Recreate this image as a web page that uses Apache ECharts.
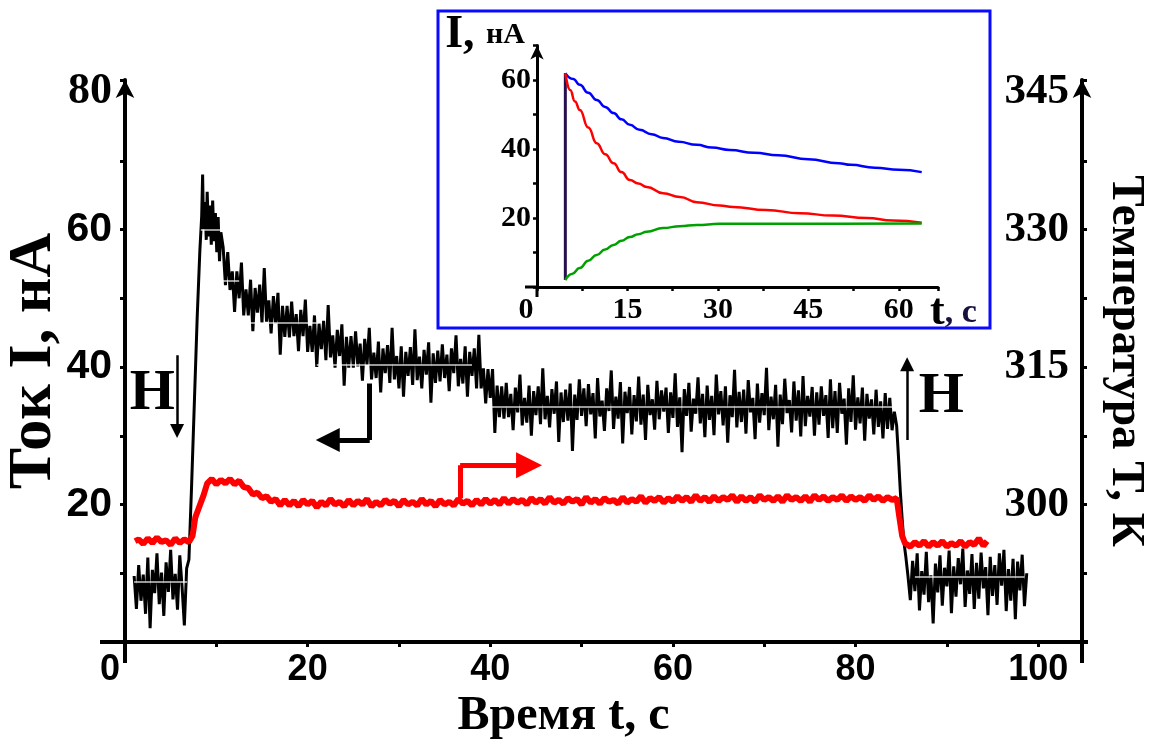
<!DOCTYPE html>
<html><head><meta charset="utf-8">
<script src="https://cdn.jsdelivr.net/npm/echarts@6/dist/echarts.min.js"></script>
<style>html,body{margin:0;padding:0;background:#fff;}#c{width:1151px;height:745px;}</style>
</head><body><div id="c"></div>
<script>
// ---------- data ----------
// Current I (nA) vs time t (s), main chart, left axis
const currentBefore = [
[1.0,9.6],[1.25,4.8],[1.5,11.2],[1.75,6.0],[2,9.8],[2.25,4.1],[2.5,12.3],[2.75,2.0],[3,10.5],[3.25,7.1],[3.5,12.9],[3.75,5.5],
[4,10.1],[4.25,3.8],[4.5,11.6],[4.75,7.3],[5,13.4],[5.25,6.2],[5.5,9.9],[5.75,4.7],[6,12.6],[6.25,8.0],
[6.5,2.4],[6.75,10.7]
];
const currentRise = [
[7.0,12],[7.3,23],[7.6,35],[7.9,47],[8.2,57],[8.4,62],[8.5,68],[8.6,60],[8.75,64],[8.9,58.5],[9.0,65.5],
[9.15,59],[9.3,63.5],[9.45,57.8],[9.6,64.2],[9.75,58.3],[9.9,62.4],[10.05,56.7],[10.2,61.8],[10.35,55.4],[10.5,59.6]
];
const currentDecay = [
[10.75,57.4],[11,51.9],[11.25,56.7],[11.5,51.2],[11.75,53.9],[12,48.0],[12.25,53.9],[12.5,50.0],[12.75,55.2],[13,47.5],
[13.25,51.3],[13.5,47.5],[13.75,52.7],[14,45.2],[14.25,51.5],[14.5,47.9],[14.75,52.0],[15,46.4],[15.25,54.4],[15.5,46.6],
[15.75,49.7],[16,44.9],[16.25,50.3],[16.5,46.4],[16.75,50.8],[17,41.8],[17.25,48.9],[17.5,44.4],[17.75,48.9],[18,44.3],
[18.25,49.5],[18.5,44.5],[18.75,47.7],[19,42.3],[19.25,48.3],[19.5,44.5],[19.75,49.8],[20,42.2],[20.25,46.0],[20.5,42.2],
[20.75,47.5],[21,40.0],[21.25,46.3],[21.5,42.6],[21.75,46.7],[22,41.0],[22.25,49.0],[22.5,41.4],[22.75,44.6],[23,39.9],
[23.25,45.4],[23.5,41.6],[23.75,46.2],[24,37.3],[24.25,44.4],[24.5,39.9],[24.75,44.5],[25,39.9],[25.25,45.2],[25.5,40.1],
[25.75,43.4],[26,38.0],[26.25,44.1],[26.5,40.3],[26.75,45.7],[27,38.2],[27.25,42.1],[27.5,38.4],[27.75,43.7],[28,36.3],
[28.25,42.7],[28.5,39.1],[28.75,43.2],[29,37.7],[29.25,45.7],[29.5,38.2],[29.75,41.6],[30,36.9],[30.25,43.0],[30.5,35.7],
[30.75,42.2],[31,38.7],[31.25,42.9],[31.5,37.4],[31.75,45.5],[32,38.1],[32.25,41.5],[32.5,36.9],[32.75,42.5],[33,38.9],
[33.25,43.6],[33.5,34.8],[33.75,42.0],[34,37.7],[34.25,42.4],[34.5,37.9],[34.75,43.3],[35,38.4],[35.25,41.8],[35.5,36.5],
[35.75,42.7],[36,39.1],[36.25,44.6],[36.5,37.2],[36.75,41.2],[37,37.6],[37.25,43.0],[37.5,35.7],[37.75,42.2],[38,38.7],
[38.25,42.7],[38.5,36.9],[38.75,44.7],[39,36.9],[39.25,39.8],[39.5,34.7],[39.75,39.7],[40,35.5],[40.25,39.7],[40.5,30.4],
[40.75,37.3],[41,32.7],[41.25,37.2],[41.5,32.5],[41.75,37.7]
];
const currentPlateau = [
[42,32.7],[42.25,36.1],[42.5,30.8],[42.75,37.0],[43,33.4],[43.25,38.9],[43.5,31.5],[43.75,35.5],[44,31.9],[44.25,37.3],
[44.5,30.0],[44.75,36.5],[45,33.0],[45.25,37.2],[45.5,31.7],[45.75,39.8],[46,32.4],[46.25,35.8],[46.5,31.2],[46.75,36.8],
[47,33.2],[47.25,37.9],[47.5,29.1],[47.75,36.3],[48,32.0],[48.25,36.7],[48.5,32.2],[48.75,37.6],[49,27.8],[49.25,36.0],
[49.5,32.3],[49.75,38.2],[50,32.9],[50.25,36.9],
[50.5,31.4],[50.75,37.5],[51,33.1],[51.25,36.2],[51.5,29.6],[51.75,38.4],[52,32.8],[52.25,35.1],[52.5,30.7],[52.75,36.9],
[53,33.6],[53.25,39.5],[53.5,31.0],[53.75,35.7],[54,32.5],[54.25,37.8],[54.5,28.9],[54.75,36.4],[55,33.3],[55.25,37.1],
[55.5,30.2],[55.75,35.9],[56,32.1],[56.25,38.6],[56.5,31.6],[56.75,36.0],[57,29.4],[57.25,37.4],[57.5,33.0],[57.75,35.3],
[58,30.9],[58.25,38.0],[58.5,32.4],[58.75,36.6],
[59,33.5],[59.25,37.0],[59.5,30.4],[59.75,36.3],[60,32.6],[60.25,39.1],[60.5,31.3],[60.75,35.6],[61,27.6],[61.25,36.8],
[61.5,32.9],[61.75,37.7],[62,30.6],[62.25,35.4],[62.5,33.2],[62.75,38.5],[63,31.8],[63.25,36.1],[63.5,29.8],[63.75,37.3],
[64,32.3],[64.25,35.8],[64.5,30.1],[64.75,38.9],[65,33.1],[65.25,36.5],[65.5,31.5],[65.75,37.2],[66,29.0],[66.25,35.9],
[66.5,32.7],[66.75,39.6],[67,31.2],[67.25,36.4],
[67.5,32.0],[67.75,36.7],[68,30.3],[68.25,38.1],[68.5,33.4],[68.75,35.5],[69,29.5],[69.25,37.6],[69.5,31.9],[69.75,36.2],
[70,33.0],[70.25,39.9],[70.5,30.8],[70.75,35.7],[71,32.4],[71.25,37.4],[71.5,28.4],[71.75,36.0],[72,31.7],[72.25,38.3],
[72.5,33.3],[72.75,35.2],[73,30.5],[73.25,37.9],[73.5,32.2],[73.75,36.6],[74,29.9],[74.25,38.7],[74.5,31.4],[74.75,35.8],
[75,32.8],[75.25,37.1],[75.5,30.0],[75.75,36.3],
[76,31.6],[76.25,37.2],[76.5,32.9],[76.75,35.9],[77,29.7],[77.25,38.2],[77.5,31.1],[77.75,36.5],[78,30.4],[78.25,37.7],
[78.5,33.2],[78.75,35.4],[79,28.7],[79.25,36.9],[79.5,32.0],[79.75,38.8],[80,30.9],[80.25,35.6],[80.5,31.8],[80.75,37.0],
[81,29.3],[81.25,36.1],[81.5,32.5],[81.75,35.3],[82,30.2],[82.25,36.7],[82.5,31.3],[82.75,35.0],[83,29.6],[83.25,36.2],
[83.5,31.0],[83.75,35.5],[84,30.8],[84.25,33.5]
];
const currentDrop = [[84.5,31.5],[84.7,27],[84.9,22],[85.1,18],[85.3,14.5],[85.5,12.5],[85.75,9.5]];
const currentAfter = [
[86,6.1],[86.25,11.8],[86.5,7.4],[86.75,12.9],[87,4.6],[87.25,10.3],[87.5,6.9],[87.75,13.1],[88,5.8],[88.25,9.7],
[88.5,2.7],[88.75,11.4],[89,7.2],[89.25,12.6],[89.5,5.3],[89.75,10.8],[90,8.1],[90.25,13.3],[90.5,4.2],[90.75,11.0],
[91,6.6],[91.25,12.2],[91.5,8.4],[91.75,13.6],[92,5.1],[92.25,10.4],[92.5,7.0],[92.75,12.8],[93,4.8],[93.25,11.5],
[93.5,6.3],[93.75,13.0],[94,7.8],[94.25,10.9],[94.5,3.9],[94.75,12.4],[95,6.7],[95.25,11.2],[95.5,5.4],[95.75,12.9],
[96,8.2],[96.25,13.4],[96.5,4.5],[96.75,10.6],[97,6.0],[97.25,12.1],[97.5,3.3],[97.75,11.7],[98,7.5],[98.25,12.7],
[98.5,5.2],[98.75,10.0]
];
// Temperature T (K) vs time t (s), main chart, right axis
const temperatureSeries = [
[1.1,296.0],[1.5,296.2],[2,295.7],[2.5,296.3],[3,295.8],[3.5,296.4],[4,295.9],[4.5,296.1],[5,295.6],[5.5,296.3],[6,295.8],
[6.5,296.2],[7,295.9],[7.4,296.6],[7.7,298.6],[8,299.4],[8.3,300.2],[8.6,301.0],[9,302.3],[9.5,302.8],[10,302.2],
[10.5,302.7],[11,302.3],[11.5,302.8],[12,302.2],[12.5,302.6],[13,301.9],[13.5,301.8],[14,301.1],[14.5,301.3],[15,300.7],
[15.5,300.9],[16,300.3],[16.5,300.6],[17,299.9],[17.5,300.5],[18,299.9],[18.5,300.4],[19,299.8],[19.5,300.5],[20,300.0],
[20.5,300.4],[21,299.7],[21.5,300.3],[22,299.9],[22.5,300.6],[23,300.0],[23.5,300.3],[24,299.8],[24.5,300.5],[25,299.9],
[25.5,300.4],[26,300.0],[26.5,300.6],[27,299.8],[27.5,300.3],[28,299.9],[28.5,300.5],[29,300.1],[29.5,300.4],[30,299.8],
[30.5,300.5],[31,300.0],[31.5,300.3],[32,299.9],[32.5,300.6],[33,300.0],[33.5,300.4],[34,299.8],[34.5,300.5],[35,300.0],
[35.5,300.3],[36,299.9],[36.5,300.6],[37,300.1],[37.5,300.4],[38,299.9],[38.5,300.5],[39,300.0],[39.5,300.6],[40,300.1],
[40.5,300.5],[41,300.0],[41.5,300.7],[42,300.1],[42.5,300.6],[43,300.2],[43.5,300.5],[44,300.0],[44.5,300.7],[45,300.2],
[45.5,300.6],[46,300.1],[46.5,300.8],[47,300.2],[47.5,300.5],[48,300.1],[48.5,300.7],[49,300.3],[49.5,300.6],[50,300.0],
[50.5,300.8],[51,300.2],[51.5,300.6],[52,300.1],[52.5,300.7],[53,300.3],[53.5,300.5],[54,300.1],[54.5,300.8],[55,300.2],
[55.5,300.6],[56,300.3],[56.5,300.9],[57,300.2],[57.5,300.7],[58,300.4],[58.5,300.8],[59,300.2],[59.5,300.7],[60,300.3],
[60.5,300.9],[61,300.4],[61.5,300.8],[62,300.3],[62.5,301.0],[63,300.4],[63.5,300.8],[64,300.3],[64.5,300.9],[65,300.4],
[65.5,300.8],[66,300.5],[66.5,301.0],[67,300.3],[67.5,300.9],[68,300.4],[68.5,300.8],[69,300.3],[69.5,301.0],[70,300.5],
[70.5,300.8],[71,300.4],[71.5,300.9],[72,300.3],[72.5,301.0],[73,300.5],[73.5,300.8],[74,300.4],[74.5,300.9],[75,300.3],
[75.5,301.0],[76,300.5],[76.5,300.9],[77,300.4],[77.5,300.8],[78,300.5],[78.5,301.0],[79,300.4],[79.5,300.9],[80,300.5],
[80.5,300.8],[81,300.4],[81.5,301.0],[82,300.5],[82.5,300.9],[83,300.4],[83.5,300.8],[84,300.5],[84.5,300.7],
[84.8,298.6],[85.1,296.6],[85.4,295.8],[86,295.4],[86.5,295.9],[87,295.5],[87.5,296.0],[88,295.4],[88.5,295.9],
[89,295.5],[89.5,296.0],[90,295.4],[90.5,295.8],[91,295.5],[91.5,296.0],[92,295.4],[92.5,295.9],[93,295.6],
[93.5,296.3],[94,295.5],[94.4,296.0]
];
// light mean-level streaks through the noisy current trace: [tStart, tEnd, level]
const currentMeanLevels = [
[1.0,6.8,8.7],[8.3,10.6,60],[10.6,12.5,52.6],[12.5,21,46.4],[21,38,40.3],[38,84.3,34.2],[86.5,98.5,9.5]
];
// inset: I (nA) vs t (s)
const insetBlue = [[4.7,62],[6,60.3],[7.1,58.6],[8.5,56.3],[9.9,54.2],[11.3,52.2],[12.7,50.4],[14,48.6],[15.4,47],
[17,45.6],[19,44.3],[20.9,43.2],[23.5,42.1],[26.5,41.2],[29,40.4],[32,39.7],[36,38.9],[40,38.2],[45,37],[50,35.9],
[52,35.4],[56,34.6],[60,34],[63.8,33.3]];
const insetRed = [[4.7,62],[5.5,57.1],[6.3,53.8],[7.1,51.3],[8.5,46.2],[9.9,41.7],[11.3,38.5],[12.7,35.9],[14,33.3],
[15.4,31],[16.8,30],[18.2,29],[20.9,27.2],[23.7,26.1],[26.5,24.6],[30.3,23.6],[32.5,23.2],[38,22.3],[43.6,21.4],
[49,20.7],[54.7,20],[59,19.3],[63.8,18.6]];
const insetGreen = [[4.7,2],[5.8,3.8],[7.1,5.5],[8.5,7.6],[9.9,9.3],[11.3,10.9],[12.7,12.2],[14,13.4],[15.4,14.5],
[16.8,15.3],[18.2,16],[20.9,17.1],[23.7,17.6],[26.5,18],[30.3,18.3],[40,18.3],[50,18.3],[63.8,18.4]];
const insetJump = [[4.7,2],[4.7,62]];
// tick labels
const mainXTickLabels = [0,20,40,60,80,100];
const currentTickLabels = [20,40,60,80];
const tempTickLabels = [300,315,330,345];
const insetXTickLabels = [0,15,30,45,60];
const insetYTickLabels = [20,40,60];
// annotations (data coordinates of the main chart, current axis)
const blackArrowStem = [[26.8,37.6],[26.8,29.4]];
const blackArrowHead = [[26.8,29.4],[22.2,29.4]];
const redArrowStem = [[36.7,20.9],[36.7,25.7]];
const redArrowHead = [[36.7,25.7],[44.25,25.7]];
const fieldArrows = [[[5.7,41.7],[5.7,30.7]],[[85.65,29.4],[85.65,40.4]]];
const fieldLabels = [[3.0,36.1],[89.4,35.6]];

const currentSeries = [].concat(currentBefore, currentRise, currentDecay, currentPlateau, currentDrop, currentAfter);

// ---------- chart ----------
const SERIF = 'Liberation Serif, Times New Roman, serif';
const SANS = 'Liberation Sans, Arial, sans-serif';
const chart = echarts.init(document.getElementById('c'));

function axisBase(width){
  return {
    axisLine:{show:true,onZero:false,lineStyle:{color:'#000',width:width}},
    axisTick:{show:true,length:5,lineStyle:{color:'#000',width:3}},
    splitLine:{show:false}
  };
}
function arrowLines(name, coordsList, color, width, head){
  return {name:name,type:'lines',coordinateSystem:'cartesian2d',xAxisIndex:0,yAxisIndex:0,silent:true,
    symbol:['none',head?'triangle':'none'],symbolSize:head||0,
    lineStyle:{color:color,width:width,opacity:1,curveness:0},
    data:coordsList.map(c=>({coords:c})),z:5};
}

const option = {
  animation:false,
  backgroundColor:'#fff',
  grid:[
    {left:125,right:69,top:80,bottom:103,containLabel:false,outerBoundsMode:'none'},
    {left:537,right:213,top:45.5,bottom:458,containLabel:false,outerBoundsMode:'none'}
  ],
  xAxis:[
    Object.assign(axisBase(4),{
      type:'value',gridIndex:0,min:0,max:104.8,interval:10,
      axisLabel:{margin:10,color:'#000',fontFamily:SANS,fontWeight:'bold',fontSize:36,
        formatter:v=>mainXTickLabels.includes(v)?(v===0?'{z|0}':String(v)):'',
        rich:{z:{fontFamily:SANS,fontWeight:'bold',fontSize:36,color:'#000',padding:[0,30,0,0]}}},
      name:'Время t, с',nameLocation:'middle',nameGap:48,
      nameTextStyle:{fontFamily:SERIF,fontWeight:'bold',fontSize:48,color:'#000',padding:[0,80,0,0]}
    }),
    Object.assign(axisBase(3),{
      type:'value',gridIndex:1,min:0,max:66.5,interval:7.5,
      axisTick:{show:true,length:4,lineStyle:{color:'#000',width:2.5}},
      axisLabel:{margin:8,color:'#000',fontFamily:SERIF,fontWeight:'bold',fontSize:30,
        formatter:v=>insetXTickLabels.includes(v)?(v===0?'{z|0}':String(v)):'',
        rich:{z:{fontFamily:SERIF,fontWeight:'bold',fontSize:30,color:'#000',padding:[0,22,0,0]}}},
      name:'{a|t}{b|, с}',nameLocation:'end',nameGap:-8,
      nameTextStyle:{align:'left',verticalAlign:'top',padding:[4,0,0,0],
        rich:{a:{fontFamily:SERIF,fontWeight:'bold',fontSize:44,color:'#000'},
              b:{fontFamily:SERIF,fontWeight:'bold',fontSize:34,color:'#1a1040'}}}
    })
  ],
  yAxis:[
    Object.assign(axisBase(4),{
      type:'value',gridIndex:0,position:'left',min:0,max:81.75,interval:10,
      axisLine:{show:true,onZero:false,lineStyle:{color:'#000',width:4},symbol:['none','arrow'],symbolSize:[14,18]},
      axisLabel:{margin:13,color:'#000',fontFamily:SANS,fontWeight:'bold',fontSize:41,
        formatter:v=>currentTickLabels.includes(v)?(v===80?'{s|80}':String(v)):'',
        rich:{s:{fontFamily:SERIF,fontWeight:'bold',fontSize:44,color:'#000'}}},
      name:'Ток I, нА',nameLocation:'middle',nameGap:60,nameMoveOverlap:false,
      nameTextStyle:{fontFamily:SERIF,fontWeight:'bold',fontSize:62,color:'#000'}
    }),
    Object.assign(axisBase(4),{
      type:'value',gridIndex:0,position:'right',min:285,max:346.3125,interval:7.5,
      axisLine:{show:true,onZero:false,lineStyle:{color:'#000',width:4},symbol:['none','arrow'],symbolSize:[14,18]},
      axisLabel:{inside:true,margin:13,color:'#000',fontFamily:SERIF,fontWeight:'bold',fontSize:43,
        formatter:v=>tempTickLabels.includes(v)?String(v):''},
      name:'Температура T, К',nameLocation:'middle',nameGap:20,nameRotate:-90,
      nameTextStyle:{fontFamily:SERIF,fontWeight:'bold',fontSize:47,color:'#000'}
    }),
    Object.assign(axisBase(3),{
      type:'value',gridIndex:1,min:0,max:70,interval:10,
      axisLine:{show:true,onZero:false,lineStyle:{color:'#000',width:3},symbol:['none','arrow'],symbolSize:[10,14]},
      axisTick:{show:true,length:4,lineStyle:{color:'#000',width:2.5}},
      axisLabel:{margin:6,color:'#000',fontFamily:SERIF,fontWeight:'bold',fontSize:30,
        formatter:v=>insetYTickLabels.includes(v)?String(v):''},
      name:'{a|I, }{b|нА}',nameLocation:'end',nameGap:10,
      nameTextStyle:{align:'right',verticalAlign:'middle',padding:[0,12,0,0],
        rich:{a:{fontFamily:SERIF,fontWeight:'bold',fontSize:46,color:'#000'},
              b:{fontFamily:SERIF,fontWeight:'bold',fontSize:30,color:'#000'}}}
    })
  ],
  series:[
    {name:'current',type:'line',xAxisIndex:0,yAxisIndex:0,data:currentSeries,showSymbol:false,symbol:'none',
      lineStyle:{color:'#000',width:3},z:3,
      markLine:{silent:true,symbol:['none','none'],label:{show:false},
        lineStyle:{color:'#fff',width:1.5,type:'solid',opacity:0.8},
        data:currentMeanLevels.map(d=>[{coord:[d[0],d[2]]},{coord:[d[1],d[2]]}])}},
    {name:'temperature',type:'line',xAxisIndex:0,yAxisIndex:1,data:temperatureSeries,showSymbol:false,symbol:'none',
      lineStyle:{color:'#ff0000',width:6},z:4},
    arrowLines('blackArrowStem',[blackArrowStem],'#000',5,0),
    arrowLines('blackArrowHead',[blackArrowHead],'#000',5,24),
    arrowLines('redArrowStem',[redArrowStem],'#ff0000',5,0),
    arrowLines('redArrowHead',[redArrowHead],'#ff0000',5,26),
    arrowLines('fieldArrows',fieldArrows,'#000',2.5,14),
    {name:'insetJump',type:'line',xAxisIndex:1,yAxisIndex:2,data:insetJump,showSymbol:false,symbol:'none',
      lineStyle:{color:'#281050',width:3},z:6},
    {name:'insetBlue',type:'line',xAxisIndex:1,yAxisIndex:2,data:insetBlue,showSymbol:false,symbol:'none',smooth:0.5,smoothMonotone:'x',
      lineStyle:{color:'#0000ff',width:2.5},z:6},
    {name:'insetRed',type:'line',xAxisIndex:1,yAxisIndex:2,data:insetRed,showSymbol:false,symbol:'none',smooth:0.5,smoothMonotone:'x',
      lineStyle:{color:'#ff0000',width:2.5},z:6},
    {name:'insetGreen',type:'line',xAxisIndex:1,yAxisIndex:2,data:insetGreen,showSymbol:false,symbol:'none',smooth:0.5,smoothMonotone:'x',
      lineStyle:{color:'#00a000',width:2.5},z:6}
  ]
};
chart.setOption(option);

// decorations: inset frame, small axis overhangs and the "Н" (field) labels
const o0 = chart.convertToPixel({xAxisIndex:0,yAxisIndex:0},[0,0]);
const r0 = chart.convertToPixel({xAxisIndex:0,yAxisIndex:0},[104.8,0]);
const o1 = chart.convertToPixel({xAxisIndex:1,yAxisIndex:2},[0,0]);
const blk = {stroke:'#000',lineWidth:4};
const graphics = [
  {type:'rect',z:-1,shape:{x:438,y:11,width:552,height:317},style:{fill:'#fff',stroke:'#0a0aff',lineWidth:3}},
  {type:'line',shape:{x1:o0[0]-25,y1:o0[1],x2:o0[0],y2:o0[1]},style:blk},
  {type:'line',shape:{x1:r0[0],y1:r0[1],x2:r0[0]+6,y2:r0[1]},style:blk},
  {type:'line',shape:{x1:o0[0],y1:o0[1],x2:o0[0],y2:o0[1]+21},style:blk},
  {type:'line',shape:{x1:r0[0],y1:r0[1],x2:r0[0],y2:r0[1]+21},style:blk},
  {type:'line',shape:{x1:o1[0]-12,y1:o1[1],x2:o1[0],y2:o1[1]},style:{stroke:'#000',lineWidth:3}},
  {type:'line',shape:{x1:o1[0],y1:o1[1],x2:o1[0],y2:o1[1]+10},style:{stroke:'#000',lineWidth:3}}
];
fieldLabels.forEach(p=>{
  const px = chart.convertToPixel({xAxisIndex:0,yAxisIndex:0},p);
  graphics.push({type:'text',z:10,x:px[0],y:px[1],
    style:{text:'Н',fill:'#000',fontFamily:SERIF,fontWeight:'bold',fontSize:58,align:'center',verticalAlign:'middle'}});
});
chart.setOption({graphic:graphics});
</script></body></html>
